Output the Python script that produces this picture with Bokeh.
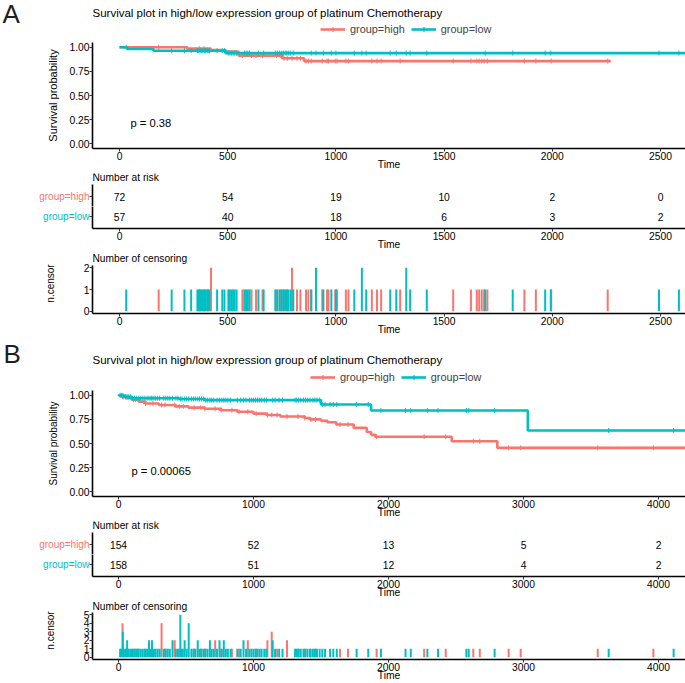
import numpy as np
from bokeh.plotting import figure
from bokeh.models import (Range1d, Label, Legend, LegendItem,
                          FixedTicker, NumeralTickFormatter)
from bokeh.layouts import column
from bokeh.embed import file_html
from bokeh.resources import INLINE
from bokeh.core.properties import value

RED = "#F8766D"
CYAN = "#00BFC4"
FONT = "Liberation Sans"
W = 685
FRAME_LEFT = 92

TITLE = "Survival plot in high/low expression group of platinum Chemotherapy"
GROUP_NAMES = ["group=high", "group=low"]
RISK_TITLE = "Number at risk"
CENS_TITLE = "Number of censoring"

# ---------------- Panel A ----------------
A_high_time = [0, 313, 420, 490, 550, 752, 853, 2270]
A_high_surv = [1.0, 0.986, 0.972, 0.957, 0.914, 0.886, 0.857, 0.857]
A_low_time = [0, 36, 157, 490, 2614]
A_low_surv = [1.0, 0.982, 0.965, 0.940, 0.940]
A_pval = "p = 0.38"
A_xticks = [0, 500, 1000, 1500, 2000, 2500]
A_risk_time = [0, 500, 1000, 1500, 2000, 2500]
A_risk_high = [72, 54, 19, 10, 2, 0]
A_risk_low = [57, 40, 18, 6, 3, 2]
A_cens_high_time = [181, 369, 390, 423, 568, 610, 631, 661, 725, 745,
                    760, 775, 797, 820, 836, 862, 873, 886, 937, 959,
                    966, 997, 1005, 1046, 1058, 1166, 1190, 1209, 1297, 1542,
                    1624, 1651, 1662, 1674, 1685, 1700, 1871, 1924, 1995, 2256]
A_cens_high_n = [1, 1, 1, 2, 1, 1, 1, 1, 1, 1,
                 1, 1, 2, 1, 1, 1, 1, 1, 1, 1,
                 1, 1, 1, 1, 1, 1, 1, 1, 1, 1,
                 1, 1, 1, 1, 1, 1, 1, 1, 1, 1]
A_cens_low_time = [31, 241, 300, 331, 360, 366, 372, 378, 385, 392,
                   398, 405, 410, 416, 451, 475, 485, 503, 510, 518,
                   525, 532, 541, 577, 585, 593, 601, 642, 666, 720,
                   730, 740, 750, 757, 766, 773, 780, 790, 803, 886,
                   908, 942, 979, 1000, 1085, 1120, 1140, 1251, 1279, 1325,
                   1343, 1420, 1690, 1817, 1967, 1993, 2493, 2585]
A_cens_low_n = [1, 1, 1, 1, 1, 1, 1, 1, 1, 1,
                1, 1, 1, 1, 1, 1, 1, 1, 1, 1,
                1, 1, 1, 1, 1, 1, 1, 1, 1, 1,
                1, 1, 1, 1, 1, 1, 1, 1, 1, 1,
                2, 1, 1, 1, 1, 2, 1, 1, 1, 2,
                1, 1, 1, 1, 1, 1, 1, 1]
A_cens_yticks = [0, 1, 2]

# ---------------- Panel B ----------------
B_high_time = [0, 25, 60, 100, 150, 200, 300, 420, 520, 640, 760, 880, 1000,
               1100, 1200, 1380, 1420, 1500, 1548, 1613, 1742, 1839, 1871,
               1903, 2468, 2806, 4200]
B_high_surv = [1.0, 0.985, 0.97, 0.955, 0.935, 0.915, 0.9, 0.885, 0.872,
               0.86, 0.845, 0.83, 0.81, 0.795, 0.78, 0.765, 0.75, 0.735,
               0.72, 0.697, 0.662, 0.62, 0.59, 0.57, 0.524, 0.455, 0.455]
B_low_time = [0, 40, 100, 450, 640, 1500, 1871, 3032, 4200]
B_low_surv = [1.0, 0.985, 0.97, 0.962, 0.95, 0.905, 0.842, 0.635, 0.635]
B_pval = "p = 0.00065"
B_xticks = [0, 1000, 2000, 3000, 4000]
B_risk_time = [0, 1000, 2000, 3000, 4000]
B_risk_high = [154, 52, 13, 5, 2]
B_risk_low = [158, 51, 12, 4, 2]
B_cens_high_time = [30, 55, 110, 125, 145, 200, 255, 319, 345, 416,
                    450, 480, 560, 610, 640, 716, 760, 840, 893, 958,
                    1020, 1103, 1135, 1175, 1248, 1330, 1380, 1425, 1460, 1641,
                    1700, 1912, 2264, 2424, 2628, 2676, 2890, 2979, 3550, 3962]
B_cens_high_n = [4, 1, 1, 1, 1, 1, 1, 4, 1, 2,
                 1, 1, 1, 1, 1, 2, 1, 1, 1, 2,
                 1, 2, 3, 1, 2, 1, 1, 1, 1, 1,
                 1, 1, 1, 1, 1, 1, 1, 1, 1, 1]
B_cens_low_time = [12, 20, 32, 40, 52, 64, 75, 88, 100, 118,
                   135, 150, 165, 180, 196, 212, 226, 240, 248, 262,
                   275, 290, 305, 335, 350, 365, 380, 400, 425, 440,
                   458, 470, 490, 505, 520, 540, 555, 570, 587, 600,
                   615, 630, 645, 660, 677, 690, 705, 730, 748, 765,
                   780, 795, 810, 830, 880, 905, 926, 945, 970, 985,
                   1000, 1015, 1030, 1045, 1060, 1080, 1095, 1142, 1160, 1190,
                   1215, 1308, 1320, 1335, 1350, 1370, 1385, 1400, 1418, 1440,
                   1455, 1470, 1490, 1510, 1530, 1567, 1591, 1617, 1764, 1850,
                   1944, 2126, 2165, 2288, 2367, 2577, 2594, 2786, 3631, 4112]
B_cens_low_n = [1, 1, 3, 1, 1, 2, 1, 1, 1, 1,
                1, 1, 1, 1, 1, 1, 2, 1, 2, 1,
                1, 1, 1, 1, 1, 1, 1, 2, 1, 1,
                5, 1, 2, 1, 4, 1, 1, 1, 2, 1,
                1, 1, 1, 1, 2, 1, 1, 1, 2, 1,
                2, 1, 1, 1, 1, 1, 2, 1, 1, 1,
                1, 1, 1, 1, 1, 1, 1, 2, 1, 1,
                1, 1, 1, 1, 1, 1, 1, 1, 1, 1,
                1, 1, 1, 1, 1, 1, 1, 1, 1, 1,
                1, 1, 1, 1, 1, 1, 1, 1, 1, 1]
B_cens_yticks = [0, 1, 2, 3, 4, 5]

NAN = [float("nan")]


def style_axes(p, tick_size="10.3px", label_size="10.3px"):
    p.outline_line_color = None
    p.grid.visible = False
    p.background_fill_color = "white"
    p.border_fill_color = "white"
    for ax in p.axis:
        ax.axis_line_color = "black"
        ax.axis_line_width = 1.6
        ax.major_tick_line_color = "#333333"
        ax.major_tick_line_width = 1
        ax.major_tick_out = 3
        ax.major_tick_in = 0
        ax.minor_tick_line_color = None
        ax.major_label_text_font = FONT
        ax.major_label_text_font_size = tick_size
        ax.major_label_text_color = "black"
        ax.major_label_standoff = 0
        ax.axis_label_text_font = FONT
        ax.axis_label_text_font_style = "normal"
        ax.axis_label_text_font_size = label_size
        ax.axis_label_text_color = "black"
    p.xaxis.axis_label = "Time"
    p.xaxis.axis_label_standoff = -4


def new_fig(height, xr, yr, top, bottom, left=FRAME_LEFT):
    p = figure(width=W, height=height, x_range=Range1d(*xr), y_range=Range1d(*yr),
               min_border_left=left, min_border_right=0, min_border_top=top,
               min_border_bottom=bottom, output_backend="svg", toolbar_location=None,
               frame_align=False)
    return p


def step_value(times, surv, t):
    idx = np.searchsorted(np.asarray(times), np.asarray(t), side="right") - 1
    return np.asarray(surv)[idx]


def header_fig(letter, height, letter_y, letter_x, title_y, legend_x, legend_y):
    p = figure(width=W, height=height, x_range=Range1d(0, W), y_range=Range1d(0, height),
               min_border_left=0, min_border_right=0, min_border_top=0,
               min_border_bottom=0, x_axis_location=None, y_axis_location=None,
               output_backend="svg", toolbar_location=None, frame_align=False)
    p.outline_line_color = None
    p.grid.visible = False
    p.add_layout(Label(x=letter_x, y=letter_y, text=letter, text_font=FONT,
                       text_font_size="26px", text_baseline="alphabetic",
                       text_color="#231f20"))
    p.add_layout(Label(x=FRAME_LEFT, y=title_y, text=TITLE, text_font=FONT,
                       text_font_size="11.5px", text_baseline="middle",
                       text_color="black"))
    rh = p.line(x=NAN, y=NAN, line_color=RED, line_width=2.6)
    mh = p.scatter(x=NAN, y=NAN, marker="cross", size=7, line_color=RED, line_width=1.2)
    rl = p.line(x=NAN, y=NAN, line_color=CYAN, line_width=2.6)
    ml = p.scatter(x=NAN, y=NAN, marker="cross", size=7, line_color=CYAN, line_width=1.2)
    legend = Legend(items=[LegendItem(label=GROUP_NAMES[0], renderers=[rh, mh]),
                           LegendItem(label=GROUP_NAMES[1], renderers=[rl, ml])],
                    orientation="horizontal", location=(legend_x, legend_y),
                    label_text_font=FONT, label_text_font_size="10.9px",
                    glyph_width=25, glyph_height=12, label_height=12,
                    label_standoff=5, spacing=6, padding=0, margin=0,
                    border_line_color=None, background_fill_alpha=0)
    p.add_layout(legend, "center")
    return p


def surv_fig(xr, xticks, ht, hs, lt, ls, ch, cl, pval, px, ylab_size,
             height, top, bottom):
    p = new_fig(height, xr, (-0.05, 1.05), top, bottom)
    p.step(ht, hs, mode="after", line_color=RED, line_width=2.6)
    ch_t = [t for t in ch if t <= ht[-1]]
    p.scatter(ch_t, step_value(ht, hs, ch_t), marker="cross", size=5,
              line_color=RED, line_width=1)
    p.step(lt, ls, mode="after", line_color=CYAN, line_width=2.6)
    cl_t = [t for t in cl if t <= lt[-1]]
    p.scatter(cl_t, step_value(lt, ls, cl_t), marker="cross", size=5,
              line_color=CYAN, line_width=1)
    p.text(x=[px], y=[0.21], text=[pval], text_font=value(FONT),
           text_font_size="11.2px", text_baseline="middle", text_align="left",
           text_color="black")
    style_axes(p)
    p.xaxis.ticker = FixedTicker(ticks=xticks)
    p.yaxis.ticker = FixedTicker(ticks=[0, 0.25, 0.5, 0.75, 1.0])
    p.yaxis.formatter = NumeralTickFormatter(format="0.00")
    p.yaxis.axis_label = "Survival probability"
    p.yaxis.axis_label_text_font_size = ylab_size
    p.yaxis.axis_label_standoff = 7
    return p


def panel_title(p, x, y, text):
    p.text(x=[x], y=[y], text=[text], text_font=value(FONT), text_font_size="10.2px",
           text_align="left", text_baseline="middle", text_color="black")


def risk_row(xr, xticks, times, counts, level, name, color, height, yr, bottom,
             title_y=None):
    # one row of the risk table; its y-axis carries the coloured group name
    p = new_fig(height, xr, yr, 0, bottom)
    if title_y is not None:
        panel_title(p, xr[0], title_y, RISK_TITLE)
    p.text(x=times, y=[level] * len(times), text=[str(v) for v in counts],
           text_font=value(FONT), text_font_size="10.3px", text_align="center",
           text_baseline="middle", text_color="black")
    style_axes(p)
    p.yaxis.ticker = FixedTicker(ticks=[level])
    p.yaxis.major_label_overrides = {level: name}
    p.yaxis.major_label_text_color = color
    p.yaxis.major_label_text_font_size = "10px"
    p.yaxis.bounds = (yr[0], min(yr[1], 2.6))
    if bottom == 0:
        p.xaxis.visible = False
    else:
        p.xaxis.ticker = FixedTicker(ticks=xticks)
    return p


def cens_fig(xr, xticks, ht, hn, lt, ln, yticks, height, bottom, y_top, title_y):
    ymax = max(yticks)
    p = new_fig(height, xr, (-0.05 * ymax, y_top), 0, bottom)
    panel_title(p, xr[0], title_y, CENS_TITLE)
    p.segment(x0=ht, y0=[0] * len(ht), x1=ht, y1=hn, line_color=RED, line_width=2)
    p.segment(x0=lt, y0=[0] * len(lt), x1=lt, y1=ln, line_color=CYAN, line_width=2)
    style_axes(p)
    p.xaxis.ticker = FixedTicker(ticks=xticks)
    p.yaxis.ticker = FixedTicker(ticks=yticks)
    p.yaxis.bounds = (-0.05 * ymax, 1.05 * ymax)
    p.yaxis.axis_label = "n.censor"
    p.yaxis.axis_label_text_font_size = "10px"
    p.yaxis.axis_label_standoff = 25
    return p


A_xr = (-124.8, 2615.5)
B_xr = (-192.6, 4200)

hA = header_fig("A", 36, 22.4, 2, 24, 320, 1)
pA1 = surv_fig(A_xr, A_xticks, A_high_time, A_high_surv, A_low_time, A_low_surv,
               A_cens_high_time, A_cens_low_time, A_pval, 51, "11px", 137, 6, 25)
pA2h = risk_row(A_xr, A_xticks, A_risk_time, A_risk_high, 2, GROUP_NAMES[0], RED,
                33, (1.5, 3.15), 0, title_y=2.95)
pA2l = risk_row(A_xr, A_xticks, A_risk_time, A_risk_low, 1, GROUP_NAMES[1], CYAN,
                47, (0.4, 1.5), 25)
pA3 = cens_fig(A_xr, A_xticks, A_cens_high_time, A_cens_high_n, A_cens_low_time,
               A_cens_low_n, A_cens_yticks, 85, 25, 2.65, 2.42)
hB = header_fig("B", 49, 34, 3, 28, 310, 4)
pB1 = surv_fig(B_xr, B_xticks, B_high_time, B_high_surv, B_low_time, B_low_surv,
               B_cens_high_time, B_cens_low_time, B_pval, 96, "10px", 134, 3, 25)
pB2h = risk_row(B_xr, B_xticks, B_risk_time, B_risk_high, 2, GROUP_NAMES[0], RED,
                33, (1.5, 3.15), 0, title_y=2.95)
pB2l = risk_row(B_xr, B_xticks, B_risk_time, B_risk_low, 1, GROUP_NAMES[1], CYAN,
                47, (0.4, 1.5), 25)
pB3 = cens_fig(B_xr, B_xticks, B_cens_high_time, B_cens_high_n, B_cens_low_time,
               B_cens_low_n, B_cens_yticks, 82, 24, 6.56, 5.97)

layout = column(hA, pA1, pA2h, pA2l, pA3, hB, pB1, pB2h, pB2l, pB3, spacing=0)

open("out.html", "w").write(file_html(layout, INLINE))
